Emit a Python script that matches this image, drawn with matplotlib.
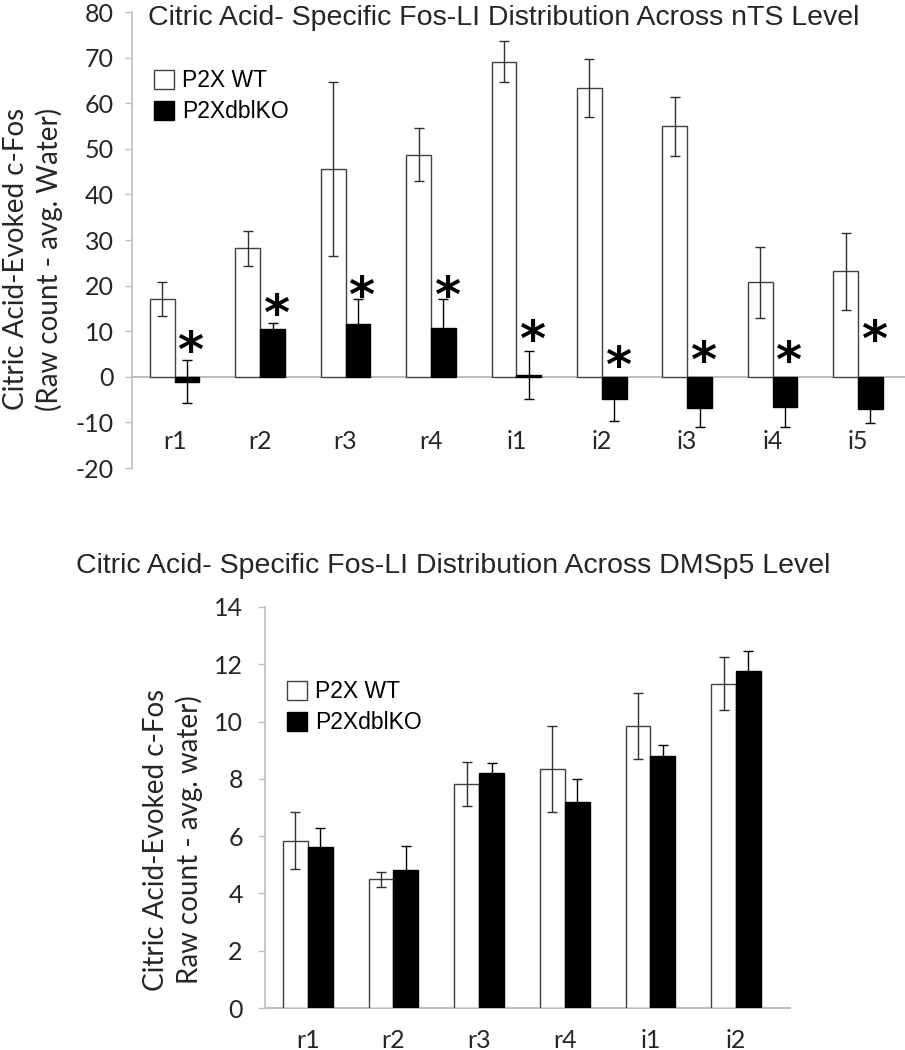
import matplotlib.pyplot as plt
import matplotlib.transforms as mtransforms
import numpy as np

# nTS level (top panel)
nts_regions = ["r1", "r2", "r3", "r4", "i1", "i2", "i3", "i4", "i5"]
nts_wt = [17.1, 28.2, 45.6, 48.7, 69.1, 63.3, 54.9, 20.7, 23.1]
nts_wt_err = [3.7, 3.8, 19.0, 5.8, 4.5, 6.3, 6.4, 7.8, 8.5]
nts_ko = [-1.1, 10.4, 11.5, 10.6, 0.4, -4.9, -6.9, -6.6, -7.1]
nts_ko_err = [4.7, 1.3, 5.5, 6.4, 5.3, 4.7, 4.2, 4.3, 3.1]
nts_star_y = [8.2, 16.4, 20.3, 20.3, 10.6, 5.1, 6.2, 6.2, 10.6]

# DMSp5 level (bottom panel)
dmsp5_regions = ["r1", "r2", "r3", "r4", "i1", "i2"]
dmsp5_wt = [5.84, 4.49, 7.82, 8.33, 9.86, 11.32]
dmsp5_wt_err = [1.0, 0.25, 0.78, 1.5, 1.15, 0.92]
dmsp5_ko = [5.62, 4.81, 8.2, 7.2, 8.81, 11.78]
dmsp5_ko_err = [0.67, 0.84, 0.37, 0.8, 0.37, 0.67]

labels = ["P2X WT", "P2XdblKO"]

plt.rcParams['font.family'] = ['Lato', 'DejaVu Sans']
plt.rcParams['axes.unicode_minus'] = False
W, H = 905, 1050
fig = plt.figure(figsize=(W / 100, H / 100), dpi=100)

BW = 0.29
GRID = '#bfbfbf'
TXT = '#262626'
TICK_FS = 18


def draw_panel(ax, cats, wt, wt_err, ko, ko_err, ylim, yticks, label_pad, ypad):
    x = np.arange(len(cats))
    b1 = ax.bar(x - BW / 2, wt, BW, color='white', edgecolor='#404040', linewidth=1.0,
                yerr=wt_err, error_kw=dict(ecolor='#303030', elinewidth=1.0, capsize=3.5, capthick=1.0),
                label=labels[0], zorder=2)
    b2 = ax.bar(x + BW / 2, ko, BW, color='black', edgecolor='black', linewidth=1.0,
                yerr=ko_err, error_kw=dict(ecolor='black', elinewidth=1.0, capsize=3.5, capthick=1.0),
                label=labels[1], zorder=2)
    ax.set_ylim(*ylim)
    ax.set_yticks(yticks)
    ax.set_xticks(x)
    ax.set_xticklabels(cats)
    for s in ['top', 'right']:
        ax.spines[s].set_visible(False)
    ax.spines['left'].set_color(GRID)
    ax.spines['left'].set_linewidth(1.2)
    ax.spines['bottom'].set_position(('data', 0))
    ax.spines['bottom'].set_color(GRID)
    ax.spines['bottom'].set_linewidth(1.5)
    ax.spines['bottom'].set_zorder(1)
    ax.tick_params(axis='y', direction='out', length=5, width=1, color=GRID,
                   labelsize=TICK_FS, labelcolor=TXT, pad=ypad)
    ax.tick_params(axis='x', length=0, labelsize=TICK_FS, labelcolor=TXT, pad=label_pad)
    return x, b1, b2


# top panel
ax1 = fig.add_axes([132 / W, 1 - 468 / H, (905 - 132) / W, (468 - 12) / H])
ax1.set_xlim(-0.5, 8.55)
x1, b1, b2 = draw_panel(ax1, nts_regions, nts_wt, nts_wt_err, nts_ko, nts_ko_err,
                        (-20, 80), np.arange(-20, 81, 10), 38, 8)
STAR_FS = 36
star_tr = mtransforms.offset_copy(ax1.transData, fig=fig, y=-0.56 * STAR_FS, units='points')
for xi, sy in zip(x1, nts_star_y):
    ax1.text(xi + BW / 2 + 0.04, sy, "*", ha='center', va='baseline', fontsize=STAR_FS,
             fontweight='bold', family='DejaVu Sans', color='black', transform=star_tr)
ax1.legend(handles=[b1, b2], labels=labels, loc='upper left', bbox_to_anchor=(143 / W, 1 - 58 / H),
           bbox_transform=fig.transFigure, frameon=False, prop={'family': 'Liberation Sans', 'size': 16.5},
           handlelength=0.85, handleheight=0.85, handletextpad=0.35, labelspacing=0.35, borderpad=0)
fig.text(148 / W, 1 - 25 / H, "Citric Acid- Specific Fos-LI Distribution Across nTS Level",
         family='Liberation Sans', fontsize=20.5, color=TXT, ha='left', va='baseline')
fig.text(33 / W, 1 - 259 / H, "Citric Acid-Evoked c-Fos\n(Raw count - avg. Water)",
         rotation=90, ha='center', va='center', fontsize=20, linespacing=1.3, color=TXT)

# bottom panel
ax2 = fig.add_axes([265 / W, 1 - 1008 / H, (790 - 265) / W, (1008 - 607) / H])
ax2.set_xlim(-0.5, 5.63)
x2, c1, c2 = draw_panel(ax2, dmsp5_regions, dmsp5_wt, dmsp5_wt_err, dmsp5_ko, dmsp5_ko_err,
                        (0, 14), np.arange(0, 15, 2), 15, 11)
ax2.legend(handles=[c1, c2], labels=labels, loc='upper left', bbox_to_anchor=(276 / W, 1 - 669 / H),
           bbox_transform=fig.transFigure, frameon=False, prop={'family': 'Liberation Sans', 'size': 16.5},
           handlelength=0.85, handleheight=0.85, handletextpad=0.35, labelspacing=0.35, borderpad=0)
fig.text(76 / W, 1 - 573 / H, "Citric Acid- Specific Fos-LI Distribution Across DMSp5 Level",
         family='Liberation Sans', fontsize=20.5, color=TXT, ha='left', va='baseline')
fig.text(173 / W, 1 - 840 / H, "Citric Acid-Evoked c-Fos\nRaw count - avg. water)",
         rotation=90, ha='center', va='center', fontsize=20, linespacing=1.3, color=TXT)

fig.savefig("out.png", dpi=100)
